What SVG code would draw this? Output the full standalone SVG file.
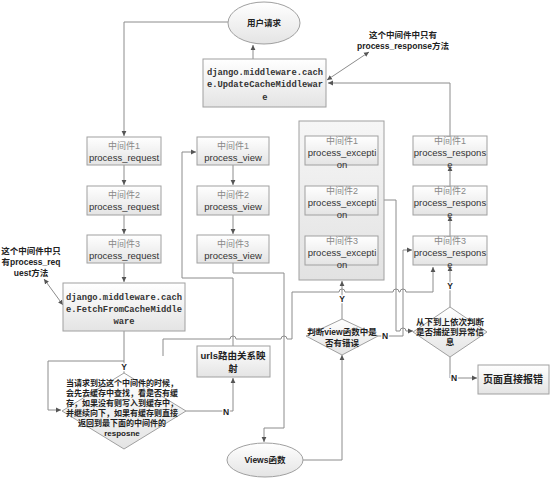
<svg xmlns="http://www.w3.org/2000/svg" width="553" height="488" viewBox="0 0 553 488">
<defs>
<linearGradient id="g" x1="0" y1="0" x2="0" y2="1"><stop offset="0" stop-color="#ffffff"/><stop offset="1" stop-color="#e4e4e4"/></linearGradient>
<linearGradient id="gc" x1="0" y1="0" x2="0" y2="1"><stop offset="0" stop-color="#f6f6f6"/><stop offset="1" stop-color="#e2e2e2"/></linearGradient>
<marker id="a" markerWidth="6" markerHeight="6" refX="5" refY="3" orient="auto" markerUnits="userSpaceOnUse"><path d="M0,0.6 L5,3 L0,5.4z" fill="#555"/></marker>
<marker id="as" markerWidth="6" markerHeight="6" refX="5" refY="3" orient="auto-start-reverse" markerUnits="userSpaceOnUse"><path d="M0,0.6 L5,3 L0,5.4z" fill="#555"/></marker>
<style>
.box{fill:url(#g);stroke:#a0a0a0;stroke-width:1}
.shape{fill:url(#g);stroke:#a0a0a0;stroke-width:1}
.ln{fill:none;stroke:#8c8c8c;stroke-width:1}
.arr{marker-end:url(#a)}
.dbl{marker-start:url(#as);marker-end:url(#as)}
.t{font-family:"Liberation Sans",Arial,sans-serif;font-size:9.5px;fill:#333;text-anchor:middle}
.tg{font-family:"Liberation Sans","Noto Sans CJK SC",sans-serif;font-size:9px;fill:#888;text-anchor:middle}
.m{font-family:"Liberation Mono","Courier New",monospace;font-size:8.8px;font-weight:bold;fill:#333;text-anchor:middle}
.b{font-family:"Liberation Sans","Noto Sans CJK SC",sans-serif;font-size:8.5px;font-weight:bold;fill:#222;text-anchor:middle}
.lb{font-family:"Liberation Sans",Arial,sans-serif;font-size:8.5px;font-weight:bold;fill:#222;text-anchor:middle;stroke:#fff;stroke-width:2.5px;paint-order:stroke}
</style>
</defs>
<rect width="553" height="488" fill="#fff"/>

<g id="connectors">
<path class="ln arr" d="M228,22 H124 V136"/>
<path class="ln arr" d="M124,165 V185"/>
<path class="ln arr" d="M124,215 V234"/>
<path class="ln arr" d="M124,263 V282"/>
<path class="ln" d="M124,331 V373"/>
<path class="ln arr" d="M124,361 H48 V410 H61"/>
<path class="ln arr" d="M163,356 V339 H230 a3,3 0 0 1 6,0 H281 a3,3 0 0 1 6,0 H292 V292 H339 a3,3 0 0 1 6,0 H393 a3,3 0 0 1 6,0 H400 a3,3 0 0 1 6,0 H433 V267"/>
<path class="ln arr" d="M186,411 H233 V378"/>
<path class="ln arr" d="M233,346 V278 H182 V152 H196"/>
<path class="ln arr" d="M233,165 V185"/>
<path class="ln arr" d="M233,215 V234"/>
<path class="ln arr" d="M233,263 V273 H284 V428 H264 V442"/>
<path class="ln arr" d="M303,460 H342 V355"/>
<path class="ln arr" d="M342,319 V281"/>
<path class="ln arr" d="M342,236 V216"/>
<path class="ln arr" d="M342,186 V166"/>
<path class="ln arr" d="M384,200 H396 V331 H400 a3,3 0 0 1 6,0 H413"/>
<path class="ln arr" d="M378,336 H403 V250 H412"/>
<path class="ln arr" d="M450,307 V266"/>
<path class="ln arr" d="M450,236 V216"/>
<path class="ln arr" d="M450,186 V166"/>
<path class="ln arr" d="M450,136 V83 H328"/>
<path class="ln arr" d="M253,59 V45"/>
<path class="ln arr" d="M450,357 V378 H477"/>
<path class="ln dbl" d="M327,80 L369,52"/>
<path class="ln dbl" d="M44,279 L63,305"/>
<text class="lb" x="124" y="370">Y</text>
<text class="lb" x="226" y="415">N</text>
<text class="lb" x="342" y="302">Y</text>
<text class="lb" x="385" y="339">N</text>
<text class="lb" x="450" y="289">Y</text>
<text class="lb" x="454" y="381">N</text>
</g>

<g id="user-request"><ellipse class="shape" cx="264" cy="23" rx="36" ry="21"/><text class="b" x="264" y="26">用户请求</text></g>

<g id="update-cache"><rect class="box" x="203" y="59" width="123" height="48"/>
<text class="m" x="265" y="75">django.middleware.cach</text>
<text class="m" x="265" y="87">e.UpdateCacheMiddlewar</text>
<text class="m" x="265" y="100">e</text></g>

<g id="note-response"><text class="b" x="403" y="38">这个中间件中只有</text><text class="b" x="403" y="49">process_response方法</text></g>

<g id="req1"><rect class="box" x="87" y="137" width="74" height="28"/><text class="tg" x="124" y="149">中间件1</text><text class="t" x="124" y="161">process_request</text></g>
<g id="req2"><rect class="box" x="87" y="186" width="74" height="29"/><text class="tg" x="124" y="198">中间件2</text><text class="t" x="124" y="210">process_request</text></g>
<g id="req3"><rect class="box" x="87" y="235" width="74" height="28"/><text class="tg" x="124" y="247">中间件3</text><text class="t" x="124" y="259">process_request</text></g>

<g id="view1"><rect class="box" x="197" y="137" width="72" height="28"/><text class="tg" x="233" y="149">中间件1</text><text class="t" x="233" y="161">process_view</text></g>
<g id="view2"><rect class="box" x="197" y="186" width="72" height="29"/><text class="tg" x="233" y="198">中间件2</text><text class="t" x="233" y="210">process_view</text></g>
<g id="view3"><rect class="box" x="197" y="235" width="72" height="28"/><text class="tg" x="233" y="247">中间件3</text><text class="t" x="233" y="259">process_view</text></g>

<g id="exception-group"><rect x="299" y="121" width="85" height="159" fill="url(#gc)" stroke="#a0a0a0"/></g>
<g id="exc1"><rect class="box" x="305" y="136" width="73" height="29"/><text class="tg" x="342" y="144">中间件1</text><text class="t" x="342" y="156">process_excepti</text><text class="t" x="342" y="168">on</text></g>
<g id="exc2"><rect class="box" x="305" y="186" width="73" height="29"/><text class="tg" x="342" y="194">中间件2</text><text class="t" x="342" y="206">process_excepti</text><text class="t" x="342" y="218">on</text></g>
<g id="exc3"><rect class="box" x="305" y="236" width="73" height="29"/><text class="tg" x="342" y="244">中间件3</text><text class="t" x="342" y="256">process_excepti</text><text class="t" x="342" y="268">on</text></g>

<g id="resp1"><rect class="box" x="413" y="136" width="74" height="29"/><text class="tg" x="450" y="144">中间件1</text><text class="t" x="450" y="156">process_respons</text><text class="t" x="450" y="168">e</text></g>
<g id="resp2"><rect class="box" x="413" y="186" width="74" height="29"/><text class="tg" x="450" y="194">中间件2</text><text class="t" x="450" y="206">process_respons</text><text class="t" x="450" y="218">e</text></g>
<g id="resp3"><rect class="box" x="413" y="236" width="74" height="29"/><text class="tg" x="450" y="244">中间件3</text><text class="t" x="450" y="256">process_respons</text><text class="t" x="450" y="268">e</text></g>

<g id="note-request"><text class="b" x="31" y="254">这个中间件中只</text><text class="b" x="31" y="265">有process_req</text><text class="b" x="31" y="276">uest方法</text></g>

<g id="fetch-cache"><rect class="box" x="63" y="283" width="122" height="48"/>
<text class="m" x="124" y="300">django.middleware.cach</text>
<text class="m" x="124" y="312">e.FetchFromCacheMiddle</text>
<text class="m" x="124" y="324">ware</text></g>

<g id="cache-decision"><polygon class="shape" points="124,373 186,411 124,449 62,411"/>
<text class="b" x="122" y="386" style="font-size:8px">当请求到达这个中间件的时候，</text>
<text class="b" x="122" y="396" style="font-size:8px">会先去缓存中查找，看是否有缓</text>
<text class="b" x="122" y="406" style="font-size:8px">存，如果没有则写入到缓存中，</text>
<text class="b" x="122" y="416" style="font-size:8px">并继续向下，如果有缓存则直接</text>
<text class="b" x="122" y="426" style="font-size:8px">返回到最下面的中间件的</text>
<text class="b" x="122" y="436" style="font-size:8px">resposne</text></g>

<g id="urls"><rect class="box" x="197" y="346" width="73" height="31"/><text class="b" x="233" y="359" style="font-size:9.5px">urls路由关系映</text><text class="b" x="233" y="372" style="font-size:9.5px">射</text></g>

<g id="views-func"><ellipse class="shape" cx="265" cy="460" rx="38" ry="17"/><text class="b" x="265" y="463">Views函数</text></g>

<g id="view-error-decision"><polygon class="shape" points="342,319 378,336 342,355 306,336"/><text class="b" x="342" y="335">判断view函数中是</text><text class="b" x="342" y="346">否有错误</text></g>

<g id="exception-decision"><polygon class="shape" points="450,307 487,332 450,357 413,332"/><text class="b" x="450" y="325">从下到上依次判断</text><text class="b" x="450" y="335">是否捕捉到异常信</text><text class="b" x="450" y="345">息</text></g>

<g id="page-error"><rect class="box" x="478" y="365" width="71" height="29"/><text class="b" x="513" y="383" style="font-size:10px">页面直接报错</text></g>
</svg>
